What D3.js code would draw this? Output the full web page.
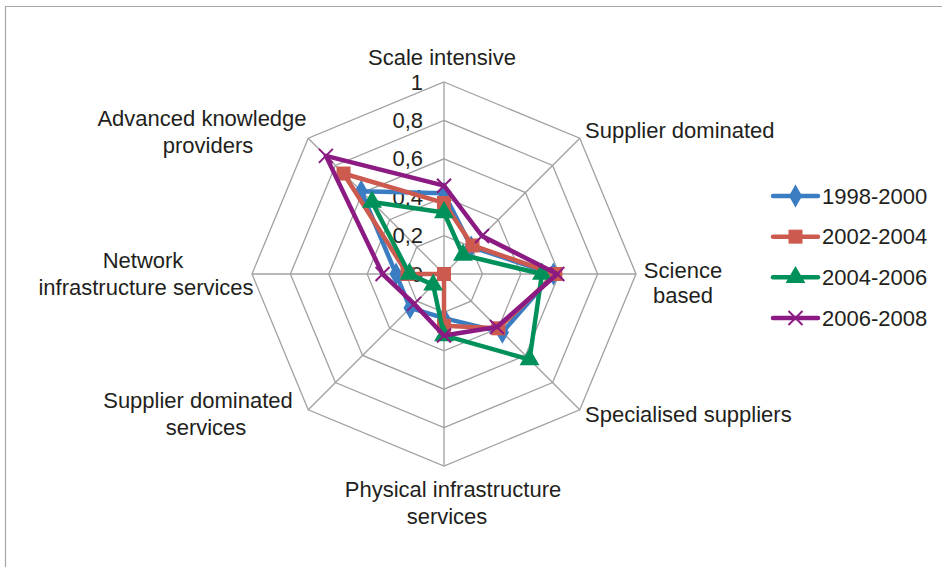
<!DOCTYPE html>
<html>
<head>
<meta charset="utf-8">
<script src="https://cdn.jsdelivr.net/npm/d3@7"></script>
<style>
  html, body { margin: 0; padding: 0; background: #fff; }
  svg text { font-family: "Liberation Sans", Arial, sans-serif; fill: #231f20; }
</style>
</head>
<body>
<svg id="chart" width="942" height="567"></svg>
<script>
// ---- data ----
const categories = [
  "Scale intensive",
  "Supplier dominated",
  "Science based",
  "Specialised suppliers",
  "Physical infrastructure services",
  "Supplier dominated services",
  "Network infrastructure services",
  "Advanced knowledge providers"
];
const seriesNames = ["1998-2000", "2002-2004", "2004-2006", "2006-2008"];
const values1998 = [0.42, 0.20, 0.57, 0.43, 0.23, 0.25, 0.25, 0.61];
const values2002 = [0.37, 0.21, 0.58, 0.40, 0.27, 0.00, 0.19, 0.74];
const values2004 = [0.32, 0.14, 0.51, 0.63, 0.32, 0.08, 0.18, 0.53];
const values2006 = [0.46, 0.28, 0.59, 0.39, 0.32, 0.22, 0.32, 0.87];
const tickValues = [0, 0.2, 0.4, 0.6, 0.8, 1];
const tickLabels = ["0", "0,2", "0,4", "0,6", "0,8", "1"];

// ---- style / layout ----
const colors = ["#3b7dc3", "#cd5a4e", "#00905a", "#8c1a83"];
const markerTypes = ["diamond", "square", "triangle", "cross"];
const cx = 444, cy = 274, R = 192;
// label line layout: [text, x, y, anchor]
const labelLayout = [
  [["Scale intensive", 442, 57, "middle"]],
  [["Supplier dominated", 585, 130, "start"]],
  [["Science", 683, 270, "middle"], ["based", 683, 295, "middle"]],
  [["Specialised suppliers", 585, 414, "start"]],
  [["Physical infrastructure", 453, 489, "middle"], ["services", 447, 516, "middle"]],
  [["Supplier dominated", 198, 400, "middle"], ["services", 206, 427, "middle"]],
  [["Network", 143, 260, "middle"], ["infrastructure services", 146, 287, "middle"]],
  [["Advanced knowledge", 202, 118, "middle"], ["providers", 208, 145, "middle"]]
];

const series = [values1998, values2002, values2004, values2006].map((v, i) => ({
  name: seriesNames[i], values: v, color: colors[i], marker: markerTypes[i]
}));

const svg = d3.select("#chart");

// frame
svg.append("path")
  .attr("d", "M5.5,567 L5.5,6.5 L942,6.5")
  .attr("fill", "none").attr("stroke", "#a6a6a6").attr("stroke-width", 1.2);

const r = d3.scaleLinear().domain([0, 1]).range([0, R]);
const n = categories.length;
const ang = i => i * 2 * Math.PI / n;
const px = (i, v) => cx + r(v) * Math.sin(ang(i));
const py = (i, v) => cy - r(v) * Math.cos(ang(i));

const grid = svg.append("g");
// rings
tickValues.filter(t => t > 0).forEach(t => {
  const pts = categories.map((c, i) => [px(i, t), py(i, t)]);
  grid.append("path")
    .attr("d", d3.line().curve(d3.curveLinearClosed)(pts))
    .attr("fill", "none").attr("stroke", "#a0a0a0").attr("stroke-width", 1.3);
});
// spokes
categories.forEach((c, i) => {
  grid.append("line")
    .attr("x1", cx).attr("y1", cy)
    .attr("x2", px(i, 1)).attr("y2", py(i, 1))
    .attr("stroke", "#a0a0a0").attr("stroke-width", 1.3);
});

// tick labels
tickValues.forEach((t, k) => {
  svg.append("text")
    .attr("x", cx - 21).attr("y", cy - r(t))
    .attr("text-anchor", "end").attr("dominant-baseline", "central")
    .attr("font-size", 22)
    .text(tickLabels[k]);
});

// category labels
labelLayout.forEach(lines => {
  lines.forEach(([t, x, y, a]) => {
    svg.append("text")
      .attr("x", x).attr("y", y)
      .attr("text-anchor", a).attr("dominant-baseline", "central")
      .attr("font-size", 22)
      .text(t);
  });
});

function drawMarker(g, type, x, y, color) {
  if (type === "cross") {
    const s = 7;
    g.append("path")
      .attr("d", `M${x - s},${y - s}L${x + s},${y + s}M${x - s},${y + s}L${x + s},${y - s}`)
      .attr("stroke", color).attr("stroke-width", 2).attr("fill", "none");
  } else {
    const sym = type === "diamond" ? d3.symbolDiamond : type === "square" ? d3.symbolSquare : d3.symbolTriangle;
    const size = type === "diamond" ? 150 : type === "square" ? 196 : 170;
    g.append("path")
      .attr("d", d3.symbol().type(sym).size(size)())
      .attr("transform", `translate(${x},${y})`)
      .attr("fill", color);
  }
}

// series
series.forEach(s => {
  const g = svg.append("g");
  const pts = s.values.map((v, i) => [px(i, v), py(i, v)]);
  g.append("path")
    .attr("d", d3.line().curve(d3.curveLinearClosed)(pts))
    .attr("fill", "none").attr("stroke", s.color)
    .attr("stroke-width", 4.5).attr("stroke-linejoin", "round");
  pts.forEach(p => drawMarker(g, s.marker, p[0], p[1], s.color));
});

// legend
const legendY = d3.scalePoint().domain(seriesNames).range([196, 318]);
series.forEach(s => {
  const y = legendY(s.name);
  const g = svg.append("g");
  g.append("line").attr("x1", 773).attr("x2", 818).attr("y1", y).attr("y2", y)
    .attr("stroke", s.color).attr("stroke-width", 4.5).attr("stroke-linecap", "round");
  drawMarker(g, s.marker, 795.5, y, s.color);
  g.append("text").attr("x", 822).attr("y", y)
    .attr("dominant-baseline", "central").attr("font-size", 22)
    .text(s.name);
});
</script>
</body>
</html>
